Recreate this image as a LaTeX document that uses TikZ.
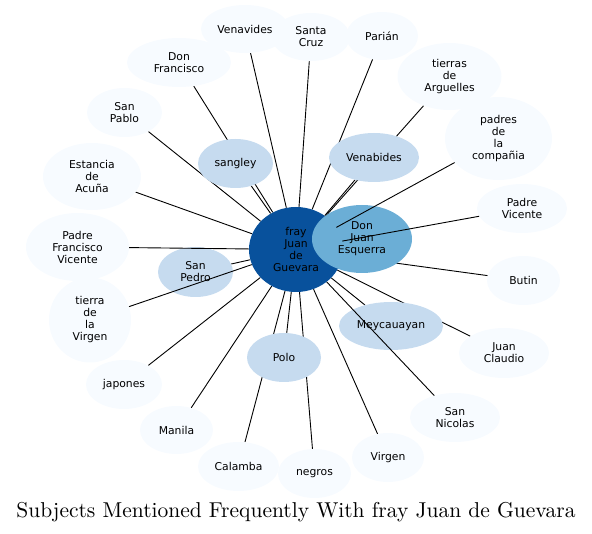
\documentclass[tikz,border=0pt]{standalone}
\usepackage{fontspec}
\usepackage{graphicx}
\usetikzlibrary{shapes.geometric}
\newfontfamily\labfont{DejaVu Sans}
\definecolor{bDark}{HTML}{08519C}
\definecolor{bMid}{HTML}{6BAED6}
\definecolor{bLight}{HTML}{C6DBEF}
\definecolor{bPale}{HTML}{F7FBFF}
\pgfdeclarelayer{background}
\pgfsetlayers{background,main}
\tikzset{
  bub/.style={ellipse, inner sep=0pt, align=center, text=black,
    font=\labfont\fontsize{10.8pt}{12pt}\selectfont},
  palebub/.style={bub, fill=bPale},
  lightbub/.style={bub, fill=bLight},
  link/.style={draw=black, line width=0.9pt},
  sz/.style 2 args={minimum width=#1pt, minimum height=#2pt}
}
\begin{document}
\begin{tikzpicture}[x=1pt,y=-1pt]
\useasboundingbox (0,0) rectangle (592,534);
% pale outer nodes
\node[palebub, sz={88}{48}] (venavides) at (245,29) {Venavides};
\node[palebub, sz={78}{48}] (santacruz) at (311,37) {Santa\\Cruz};
\node[palebub, sz={72}{48}] (parian) at (382,36) {Parián};
\node[palebub, sz={104}{49}] (donfran) at (179,62.5) {Don\\Francisco};
\node[palebub, sz={75}{49}] (sanpablo) at (124.5,112.5) {San\\Pablo};
\node[palebub, sz={98}{67}] (estancia) at (92,176.5) {Estancia\\de\\Acuña};
\node[palebub, sz={103}{68}] (pfv) at (77.5,247) {Padre\\Francisco\\Vicente};
\node[palebub, sz={82}{85}] (tdlv) at (90,320) {tierra\\de\\la\\Virgen};
\node[palebub, sz={76}{49}] (japones) at (124,384.5) {japones};
\node[palebub, sz={73}{48}] (manila) at (176.5,430) {Manila};
\node[palebub, sz={81}{49}] (calamba) at (238.5,466.5) {Calamba};
\node[palebub, sz={73}{49}] (negros) at (314.5,473.5) {negros};
\node[palebub, sz={72}{49}] (virgen) at (388,457.5) {Virgen};
\node[palebub, sz={90}{49}] (sannic) at (455,417.5) {San\\Nicolas};
\node[palebub, sz={90}{50}] (juancl) at (504,353) {Juan\\Claudio};
\node[palebub, sz={73}{49}] (butin) at (523.5,280.5) {Butin};
\node[palebub, sz={90}{49}] (padrev) at (522,208.5) {Padre\\Vicente};
\node[palebub, sz={104}{67}] (tierras) at (449.5,76.5) {tierras\\de\\Arguelles};
\node[palebub, sz={107}{83}] (padres) at (498.5,138.5) {padres\\de\\la\\compañia};
% light inner nodes
\node[lightbub, sz={75}{49}] (sangley) at (235.5,163.5) {sangley};
\node[lightbub, sz={90}{49}] (venabides) at (374,157.5) {Venabides};
\node[lightbub, sz={75}{50}] (sanpedro) at (195.5,272) {San\\Pedro};
\node[lightbub, sz={104}{48}] (meyc) at (391,326) {Meycauayan};
\node[lightbub, sz={74}{49}] (polo) at (284,357.5) {Polo};
% central nodes
\node[bub, fill=bDark, sz={94}{85}] (fray) at (296,249.5) {fray\\Juan\\de\\Guevara};
\node[bub, fill=bMid, sz={100}{68}] (dje) at (362,239) {Don\\Juan\\Esquerra};
% connectors drawn beneath the bubbles
\begin{pgfonlayer}{background}
\foreach \t in {venavides,santacruz,parian,donfran,sanpablo,estancia,
  japones,manila,calamba,negros,virgen,juancl,butin,tierras,
  sangley,venabides,sanpedro,meyc,polo,dje}
  \draw[link] (fray) -- (\t);
\end{pgfonlayer}
% connectors drawn over the bubbles
\foreach \t in {pfv,tdlv,sannic,padrev,padres}
  \draw[link] (fray) -- (\t);
% title
\node[anchor=base, inner sep=0pt] (title) at (296,517)
  {\resizebox{559pt}{!}{Subjects Mentioned Frequently With fray Juan de Guevara}};
\end{tikzpicture}
\end{document}
